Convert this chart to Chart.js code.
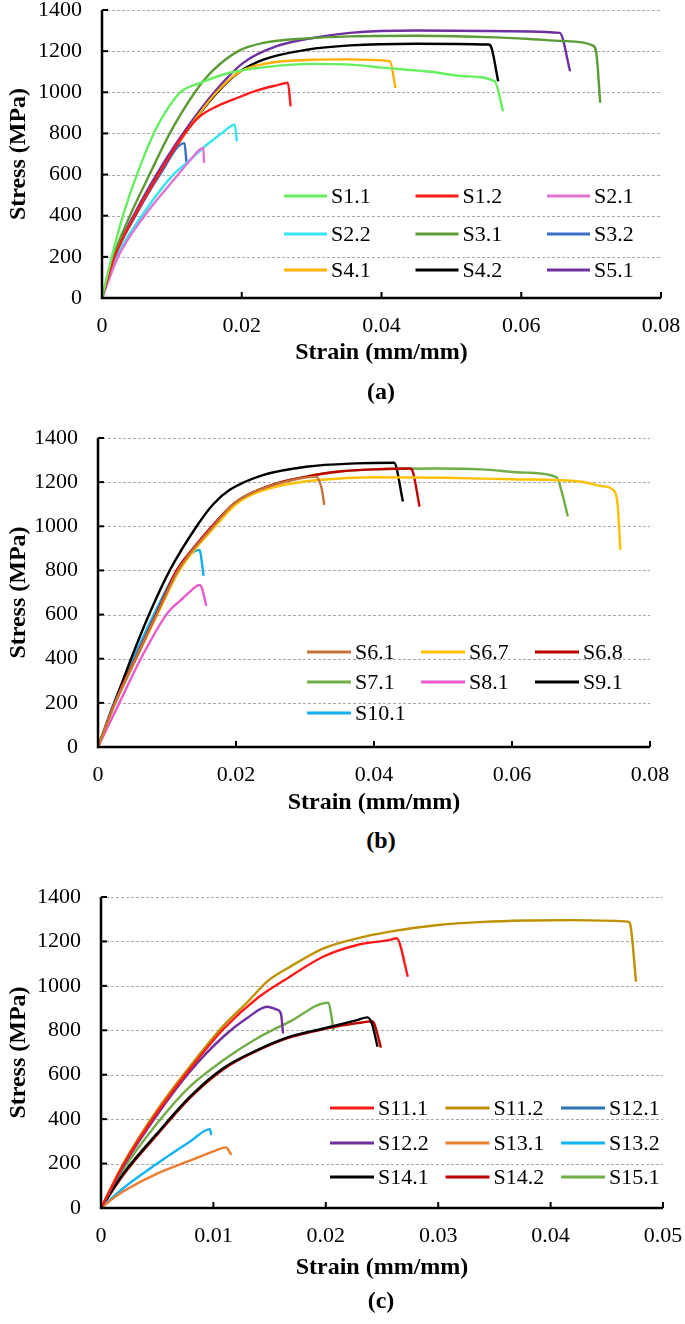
<!DOCTYPE html>
<html><head><meta charset="utf-8">
<script src="https://cdn.jsdelivr.net/npm/chart.js@4.4.1/dist/chart.umd.min.js"></script>
<style>
body{margin:0;background:#fff;width:685px;height:1324px;position:relative;overflow:hidden;font-family:"Liberation Serif","Times New Roman",serif;}
canvas{position:absolute;left:0;}
.lab{position:absolute;font-weight:bold;font-size:24px;line-height:24px;transform:translate(-50%,-50%);white-space:nowrap;}
</style></head><body>
<canvas id="ca" width="685" height="372" style="top:0px"></canvas>
<canvas id="cb" width="685" height="420" style="top:400px"></canvas>
<canvas id="cc" width="685" height="430" style="top:860px"></canvas>
<div class="lab" style="left:381px;top:391px">(a)</div>
<div class="lab" style="left:381px;top:840px">(b)</div>
<div class="lab" style="left:381px;top:1300px">(c)</div>
<script>
// ---------- tick values / labels ----------
const yTickVals = [0,200,400,600,800,1000,1200,1400];
const yTickLabels = ['0','200','400','600','800','1000','1200','1400'];
const xTickValsAB = [0,0.02,0.04,0.06,0.08];
const xTickLabelsAB = ['0','0.02','0.04','0.06','0.08'];
const xTickValsC = [0,0.01,0.02,0.03,0.04,0.05];
const xTickLabelsC = ['0','0.01','0.02','0.03','0.04','0.05'];

// ---------- panel (a) ----------
const namesA = ['S1.1','S1.2','S2.1','S2.2','S3.1','S3.2','S4.1','S4.2','S5.1'];
const S1_1 = [[0,0],[0.0014,200],[0.003,400],[0.005,600],[0.0074,800],[0.009,900],[0.0112,1000],[0.014,1045],[0.0183,1095],[0.024,1125],[0.030,1138],[0.036,1133],[0.040,1120],[0.047,1100],[0.052,1078],[0.0562,1053],[0.0574,907]];
const S1_2 = [[0,0],[0.0018,200],[0.0047,400],[0.0081,600],[0.0119,803],[0.014,883],[0.0165,933],[0.0188,965],[0.0221,1008],[0.025,1034],[0.0266,1046],[0.027,931]];
const S2_1 = [[0,0],[0.0023,200],[0.0061,400],[0.0109,600],[0.0125,665],[0.0145,729],[0.0146,657]];
const S2_2 = [[0,0],[0.0021,200],[0.0057,400],[0.0102,600],[0.0121,657],[0.015,745],[0.0171,800],[0.019,842],[0.0193,761]];
const S3_1 = [[0,0],[0.0016,200],[0.004,400],[0.0068,600],[0.0097,800],[0.0133,1000],[0.0157,1100],[0.0195,1200],[0.0231,1240],[0.0293,1262],[0.0355,1272],[0.045,1275],[0.055,1268],[0.0612,1259],[0.066,1249],[0.0703,1227],[0.0708,1175],[0.0713,949]];
const S3_2 = [[0,0],[0.0018,200],[0.0048,400],[0.0083,600],[0.0118,753],[0.0121,657]];
const S4_1 = [[0,0],[0.0018,200],[0.0047,400],[0.0081,600],[0.0119,800],[0.0164,1000],[0.0197,1100],[0.0235,1140],[0.030,1158],[0.035,1160],[0.0412,1151],[0.042,1021]];
const S4_2 = [[0,0],[0.0018,200],[0.0047,400],[0.0081,600],[0.0119,800],[0.0164,996],[0.0198,1102],[0.0231,1159],[0.0293,1207],[0.0355,1228],[0.045,1236],[0.0553,1232],[0.0557,1220],[0.0567,1053]];
const S5_1 = [[0,0],[0.0017,200],[0.0045,400],[0.0078,600],[0.0116,800],[0.0164,1013],[0.0202,1143],[0.025,1224],[0.0316,1272],[0.0355,1289],[0.045,1300],[0.055,1298],[0.0655,1289],[0.067,1102]];
const seriesA = [S1_1,S1_2,S2_1,S2_2,S3_1,S3_2,S4_1,S4_2,S5_1];

// ---------- panel (b) ----------
const namesB = ['S6.1','S6.7','S6.8','S7.1','S8.1','S9.1','S10.1'];
const S6_1 = [[0,0],[0.0025,200],[0.0055,400],[0.0085,600],[0.0116,800],[0.0167,1000],[0.0196,1100],[0.0222,1150],[0.0263,1195],[0.029,1215],[0.0316,1225],[0.0324,1172],[0.0328,1097]];
const S6_7 = [[0,0],[0.0025,200],[0.0055,400],[0.0086,600],[0.0118,800],[0.017,1000],[0.020,1100],[0.0228,1150],[0.027,1188],[0.032,1210],[0.040,1222],[0.050,1220],[0.060,1213],[0.070,1202],[0.073,1182],[0.0748,1160],[0.0753,1100],[0.0757,893]];
const S6_8 = [[0,0],[0.0024,200],[0.0054,400],[0.0084,600],[0.0114,800],[0.0138,900],[0.0165,1000],[0.0196,1100],[0.0222,1150],[0.0263,1198],[0.0307,1228],[0.035,1248],[0.040,1258],[0.0452,1262],[0.0456,1250],[0.0466,1089]];
const S7_1 = [[0,0],[0.0025,200],[0.0055,400],[0.0085,600],[0.0116,800],[0.014,900],[0.0167,1000],[0.0196,1100],[0.0222,1150],[0.0263,1198],[0.0307,1228],[0.035,1248],[0.040,1258],[0.0493,1262],[0.0556,1258],[0.062,1243],[0.0665,1222],[0.067,1180],[0.0681,1044]];
const S8_1 = [[0,0],[0.0031,200],[0.0062,400],[0.0099,600],[0.0108,632],[0.0118,660],[0.0133,703],[0.0147,734],[0.015,725],[0.0157,639]];
const S9_1 = [[0,0],[0.0024,200],[0.0048,400],[0.0074,600],[0.0104,800],[0.0143,1000],[0.0167,1100],[0.0191,1165],[0.0239,1232],[0.0302,1270],[0.0374,1285],[0.0429,1288],[0.0442,1112]];
const S10_1 = [[0,0],[0.0023,200],[0.0051,400],[0.0081,600],[0.0115,800],[0.0147,893],[0.0153,776]];
const seriesB = [S6_1,S6_7,S6_8,S7_1,S8_1,S9_1,S10_1];

// ---------- panel (c) ----------
const namesC = ['S11.1','S11.2','S12.1','S12.2','S13.1','S13.2','S14.1','S14.2','S15.1'];
const S11_1 = [[0,0],[0.002,195],[0.005,430],[0.0079,625],[0.0109,806],[0.0139,944],[0.0168,1041],[0.0198,1132],[0.0228,1184],[0.0257,1207],[0.0263,1214],[0.0273,1041]];
const S11_2 = [[0,0],[0.002,201],[0.005,441],[0.0079,636],[0.0109,821],[0.013,925],[0.0148,1020],[0.0168,1085],[0.0198,1169],[0.0228,1214],[0.0257,1244],[0.030,1274],[0.034,1288],[0.038,1294],[0.042,1296],[0.0469,1289],[0.0471,1274],[0.0476,1019]];
const S12_1 = [];
const S12_2 = [[0,0],[0.002,190],[0.005,420],[0.0079,614],[0.0109,772],[0.013,855],[0.0148,906],[0.0156,894],[0.016,876],[0.0162,786]];
const S13_1 = [[0,0],[0.001,40],[0.002,75],[0.005,155],[0.0079,213],[0.0103,261],[0.0111,273],[0.0116,239]];
const S13_2 = [[0,0],[0.002,90],[0.005,200],[0.0079,298],[0.0097,355],[0.0098,328]];
const S14_1 = [[0,0],[0.002,156],[0.005,336],[0.0079,500],[0.0109,630],[0.0139,711],[0.0168,771],[0.0198,808],[0.0228,846],[0.0237,858],[0.0241,831],[0.0246,726]];
const S14_2 = [[0,0],[0.002,150],[0.005,330],[0.0079,495],[0.0109,625],[0.0139,708],[0.0168,768],[0.0198,805],[0.0228,832],[0.0242,840],[0.0245,800],[0.0249,722]];
const S15_1 = [[0,0],[0.002,175],[0.005,381],[0.0079,546],[0.0109,666],[0.0139,764],[0.0168,839],[0.0202,924],[0.0207,801]];
const seriesC = [S11_1,S11_2,S12_1,S12_2,S13_1,S13_2,S14_1,S14_2,S15_1];

// ---------- styles ----------
const colorsA = ['#66ee5e','#ff1a1a','#e072d2','#33e6f2','#5b9b35','#3a6cc8','#ffb000','#000000','#7030a0'];
const colorsB = ['#c8703a','#ffc000','#c00000','#70ad47','#ea5ccc','#000000','#12aef0'];
const colorsC = ['#ff1a1a','#bf9000','#2e75b6','#7030a0','#ed7d31','#12b4f0','#000000','#c00000','#70ad47'];
const FONT = '"Liberation Serif","Times New Roman",serif';

const decoPlugin = {
  id: 'deco',
  beforeDatasetsDraw(chart, args, opts) {
    const {ctx, chartArea: a, scales: {y}} = chart;
    ctx.save();
    ctx.strokeStyle = '#a8a8a8'; ctx.lineWidth = 1; ctx.setLineDash([3, 2]);
    y.ticks.forEach(t => {
      if (t.value === 0) return;
      const py = Math.round(y.getPixelForValue(t.value)) + 0.5;
      ctx.beginPath(); ctx.moveTo(a.left, py); ctx.lineTo(a.right, py); ctx.stroke();
    });
    ctx.restore();
  },
  afterDatasetsDraw(chart, args, opts) {
    const {ctx, chartArea: a, scales: {x, y}} = chart;
    ctx.save();
    ctx.setLineDash([]);
    ctx.strokeStyle = '#000'; ctx.lineWidth = 2.5;
    ctx.beginPath(); ctx.moveTo(a.left, a.top); ctx.lineTo(a.left, a.bottom); ctx.lineTo(a.right, a.bottom); ctx.stroke();
    ctx.lineWidth = 2;
    x.ticks.forEach(t => {
      if (t.value === 0) return;
      const px = x.getPixelForValue(t.value);
      ctx.beginPath(); ctx.moveTo(px, a.bottom); ctx.lineTo(px, a.bottom - 6); ctx.stroke();
    });
    y.ticks.forEach(t => {
      if (t.value === 0) return;
      const py = y.getPixelForValue(t.value);
      ctx.beginPath(); ctx.moveTo(a.left, py); ctx.lineTo(a.left + 6, py); ctx.stroke();
    });
    // legend
    ctx.font = '22px ' + FONT;
    ctx.textBaseline = 'middle';
    ctx.textAlign = 'left';
    chart.data.datasets.forEach((ds, i) => {
      const r = Math.floor(i / 3), c = i % 3;
      const lx = opts.x0 + c * opts.pitch, ly = opts.rows[r];
      ctx.strokeStyle = ds.borderColor; ctx.lineWidth = 3;
      ctx.beginPath(); ctx.moveTo(lx, ly); ctx.lineTo(lx + opts.len, ly); ctx.stroke();
      ctx.fillStyle = '#000';
      ctx.fillText(ds.label, lx + opts.len + 4, ly + 1);
    });
    ctx.restore();
  }
};

function makeChart(id, names, series, colors, xVals, xLabels, g, leg) {
  const ctx = document.getElementById(id);
  return new Chart(ctx, {
    type: 'line',
    data: {
      datasets: names.map((n, i) => ({
        label: n, data: series[i], borderColor: colors[i], backgroundColor: colors[i],
        borderWidth: 2.4, pointRadius: 0, fill: false, cubicInterpolationMode: 'monotone'
      }))
    },
    options: {
      responsive: false, animation: false, devicePixelRatio: 1,
      layout: {padding: {top: g.top, right: g.right, left: 0, bottom: 0}},
      plugins: {legend: {display: false}, tooltip: {enabled: false}, deco: leg},
      scales: {
        x: {
          type: 'linear', min: 0, max: xVals[xVals.length - 1],
          afterBuildTicks: s => { s.ticks = xVals.map(v => ({value: v})); },
          afterFit: s => { s.height = g.xh; s.paddingLeft = 0; s.paddingRight = 0; },
          grid: {display: false, drawTicks: false}, border: {display: false},
          ticks: {callback: (v, i) => xLabels[i], font: {family: FONT, size: 22}, color: '#000', padding: 15, maxRotation: 0, autoSkip: false},
          title: {display: true, text: 'Strain (mm/mm)', color: '#000', font: {family: FONT, size: 24, weight: 'bold'}, padding: {top: 0, bottom: g.tb}}
        },
        y: {
          type: 'linear', min: 0, max: 1400,
          afterBuildTicks: s => { s.ticks = yTickVals.map(v => ({value: v})); },
          afterFit: s => { s.width = g.left; s.paddingTop = 0; s.paddingBottom = 0; },
          grid: {display: false, drawTicks: false}, border: {display: false},
          ticks: {callback: (v, i) => yTickLabels[i], font: {family: FONT, size: 22}, color: '#000', padding: 20, autoSkip: false},
          title: {display: true, text: 'Stress (MPa)', color: '#000', font: {family: FONT, size: 24, weight: 'bold'}, padding: {top: 4, bottom: 0}}
        }
      }
    },
    plugins: [decoPlugin]
  });
}

makeChart('ca', namesA, seriesA, colorsA, xTickValsAB, xTickLabelsAB,
  {top: 10, right: 24, left: 102, xh: 74, tb: 5},
  {x0: 284, pitch: 131.5, len: 43, rows: [196, 234, 270]});
makeChart('cb', namesB, seriesB, colorsB, xTickValsAB, xTickLabelsAB,
  {top: 38, right: 35, left: 98, xh: 73, tb: 3},
  {x0: 307, pitch: 114, len: 44, rows: [652 - 400, 682 - 400, 713 - 400]});
makeChart('cc', namesC, seriesC, colorsC, xTickValsC, xTickLabelsC,
  {top: 37, right: 22, left: 101, xh: 82, tb: 8},
  {x0: 330, pitch: 115.5, len: 44, rows: [1108 - 860, 1143 - 860, 1177 - 860]});
</script>
</body></html>
